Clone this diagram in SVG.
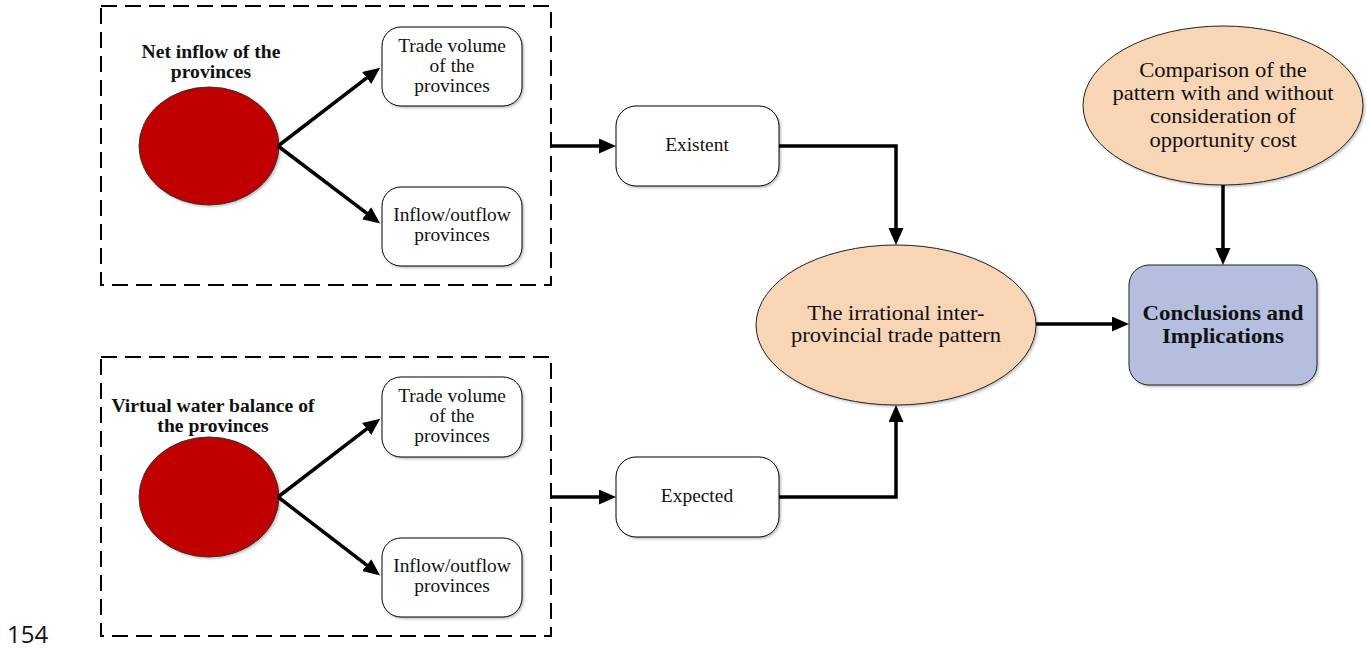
<svg xmlns="http://www.w3.org/2000/svg" width="1367" height="648" viewBox="0 0 1367 648">
<style>
.dash{fill:none;stroke:#000;stroke-width:2;stroke-dasharray:16 8}
.box{fill:#fff;stroke:#000;stroke-width:1}
.red{fill:#C00000;stroke:#333;stroke-width:1}
.peach{fill:#F8D5B5;stroke:#222;stroke-width:1}
.blue{fill:#B4BEDF;stroke:#222;stroke-width:1}
text{transform-box:fill-box;transform-origin:center}
.t{font-family:"Liberation Serif","Times New Roman",serif;font-size:18px;fill:#111;text-anchor:middle;transform:scaleX(1.08)}
.tb{font-family:"Liberation Serif","Times New Roman",serif;font-size:18px;font-weight:bold;fill:#111;text-anchor:middle;transform:scaleX(1.09)}
.tl{font-family:"Liberation Serif","Times New Roman",serif;font-size:20.5px;fill:#111;text-anchor:middle;transform:scaleX(1.1)}
.tc{font-family:"Liberation Serif","Times New Roman",serif;font-size:21px;font-weight:bold;fill:#111;text-anchor:middle;transform:scaleX(1.09)}
.pg{font-family:"Open Sans","Noto Sans",sans-serif;font-size:24px;fill:#111}
.c{fill:none;stroke:#000;stroke-width:3.5}
</style>
<defs>
<marker id="ah" markerUnits="userSpaceOnUse" markerWidth="18" markerHeight="16" refX="12" refY="7.5" orient="auto">
<path d="M0,0 L17,7.5 L0,15 z" fill="#000"/>
</marker>
<filter id="sh" x="-10%" y="-10%" width="125%" height="125%">
<feDropShadow dx="1.5" dy="1.5" stdDeviation="1.2" flood-color="#000" flood-opacity="0.25"/>
</filter>
</defs>

<g id="group-top">
<rect class="dash" x="101" y="6" width="450" height="279"/>
</g>
<g id="group-bottom">
<rect class="dash" x="101" y="357" width="450" height="279"/>
</g>

<g id="net-inflow">
<ellipse class="red" cx="209" cy="146" rx="70" ry="59" filter="url(#sh)"/>
<text class="tb" x="211" y="58">Net inflow of the</text>
<text class="tb" x="211" y="78">provinces</text>
</g>
<g id="trade-volume-1">
<rect class="box" x="382" y="27" width="140" height="79" rx="19" filter="url(#sh)"/>
<text class="t" x="452" y="52">Trade volume</text>
<text class="t" x="452" y="72">of the</text>
<text class="t" x="452" y="92">provinces</text>
</g>
<g id="inflow-outflow-1">
<rect class="box" x="382" y="187" width="140" height="79" rx="19" filter="url(#sh)"/>
<text class="t" x="452" y="221">Inflow/outflow</text>
<text class="t" x="452" y="241">provinces</text>
</g>

<g id="vw-balance">
<ellipse class="red" cx="209" cy="497" rx="70" ry="60" filter="url(#sh)"/>
<text class="tb" x="213" y="412">Virtual water balance of</text>
<text class="tb" x="213" y="432">the provinces</text>
</g>
<g id="trade-volume-2">
<rect class="box" x="382" y="377" width="140" height="80" rx="19" filter="url(#sh)"/>
<text class="t" x="452" y="402">Trade volume</text>
<text class="t" x="452" y="422">of the</text>
<text class="t" x="452" y="442">provinces</text>
</g>
<g id="inflow-outflow-2">
<rect class="box" x="382" y="538" width="140" height="79" rx="19" filter="url(#sh)"/>
<text class="t" x="452" y="572">Inflow/outflow</text>
<text class="t" x="452" y="592">provinces</text>
</g>

<g id="existent">
<rect class="box" x="616" y="106" width="163" height="80" rx="20" filter="url(#sh)"/>
<text class="t" x="697" y="151">Existent</text>
</g>
<g id="expected">
<rect class="box" x="616" y="457" width="163" height="80" rx="20" filter="url(#sh)"/>
<text class="t" x="697" y="502">Expected</text>
</g>

<g id="irrational">
<ellipse class="peach" cx="896" cy="325" rx="140" ry="80" filter="url(#sh)"/>
<text class="tl" x="896" y="320">The irrational inter-</text>
<text class="tl" x="896" y="342">provincial trade pattern</text>
</g>

<g id="comparison">
<ellipse class="peach" cx="1223" cy="105.5" rx="140" ry="79.5" filter="url(#sh)"/>
<text class="tl" x="1223" y="77">Comparison of the</text>
<text class="tl" x="1223" y="100">pattern with and without</text>
<text class="tl" x="1223" y="123">consideration of</text>
<text class="tl" x="1223" y="147">opportunity cost</text>
</g>

<g id="conclusions">
<rect class="blue" x="1129" y="265" width="188" height="120" rx="20" filter="url(#sh)"/>
<text class="tc" x="1223" y="320">Conclusions and</text>
<text class="tc" x="1223" y="343">Implications</text>
</g>

<g id="connectors">
<path class="c" d="M278,146 L376.2,70.7" marker-end="url(#ah)"/>
<path class="c" d="M278,146 L376.2,220.4" marker-end="url(#ah)"/>
<path class="c" d="M278,497 L376.2,421.7" marker-end="url(#ah)"/>
<path class="c" d="M278,497 L376.2,572.4" marker-end="url(#ah)"/>
<path class="c" d="M551,146 H611" marker-end="url(#ah)"/>
<path class="c" d="M551,497 H611" marker-end="url(#ah)"/>
<path class="c" d="M779,146 H896 V240" marker-end="url(#ah)"/>
<path class="c" d="M779,497 H896 V410" marker-end="url(#ah)"/>
<path class="c" d="M1223,185 V260" marker-end="url(#ah)"/>
<path class="c" d="M1036,324 H1124" marker-end="url(#ah)"/>
</g>

<text class="pg" x="7" y="643">154</text>
</svg>
